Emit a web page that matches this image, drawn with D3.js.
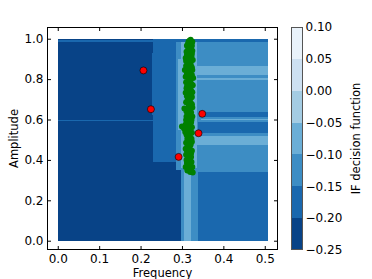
<!DOCTYPE html>
<html lang="en">
<head>
<meta charset="utf-8">
<title>IF decision function</title>
<script src="https://d3js.org/d3.v7.min.js"></script>
<style>
  body { margin: 0; background: #fff; }
  svg text { font-family: "DejaVu Sans", sans-serif; fill: #000; }
</style>
</head>
<body>
<div id="chart"></div>
<script>
// colour bar levels
var levels = [-0.25, -0.20, -0.15, -0.10, -0.05, 0.00, 0.05, 0.10];
var xTicks = [0.0, 0.1, 0.2, 0.3, 0.4, 0.5];
var yTicks = [0.0, 0.2, 0.4, 0.6, 0.8, 1.0];
// matplotlib "Blues" anchor colours (0 -> 1)
var bluesStops = ["#f7fbff", "#deebf7", "#c6dbef", "#9ecae1", "#6baed6",
                  "#4292c6", "#2171b5", "#08519c", "#08306b"];

// decision function read off the picture as blocks, painted in order
// [freq0, freq1, amp0, amp1, score]
var cells = [
  [0.000, 0.508, 0.000, 1.000, -0.23],
  [0.000, 0.232, 0.982, 0.992, -0.18],
  [0.000, 0.232, 0.592, 0.600, -0.18],
  [0.231, 0.298, 0.392, 1.000, -0.18],
  [0.227, 0.231, 0.620, 0.930, -0.18],
  [0.229, 0.231, 0.420, 0.550, -0.18],
  [0.338, 0.508, 0.000, 0.342, -0.18],
  [0.338, 0.508, 0.342, 1.000, -0.13],
  [0.286, 0.338, 0.350, 1.000, -0.13],
  [0.298, 0.336, 0.360, 0.985, -0.08],
  [0.290, 0.298, 0.550, 0.900, -0.08],
  [0.307, 0.326, 0.370, 0.980, -0.03],
  [0.298, 0.338, 0.000, 0.360, -0.13],
  [0.305, 0.322, 0.000, 0.370, -0.08],
  [0.332, 0.508, 0.822, 0.866, -0.08],
  [0.335, 0.508, 0.797, 0.805, -0.08],
  [0.344, 0.508, 0.612, 0.635, -0.18],
  [0.345, 0.508, 0.598, 0.604, -0.08],
  [0.338, 0.508, 0.532, 0.590, -0.18],
  [0.332, 0.508, 0.474, 0.516, -0.08],
  [0.286, 0.508, 0.985, 1.000, -0.18]
];

// training points [frequency, amplitude]
var inliers = [
  [0.321, 0.995], [0.316, 0.985], [0.325, 0.985], [0.319, 0.975], [0.312, 0.965],
  [0.324, 0.965], [0.318, 0.955], [0.322, 0.945], [0.311, 0.935], [0.317, 0.935],
  [0.324, 0.925], [0.315, 0.915], [0.320, 0.905], [0.309, 0.905], [0.326, 0.895],
  [0.313, 0.885], [0.319, 0.875], [0.322, 0.865], [0.310, 0.865], [0.316, 0.855],
  [0.307, 0.845], [0.325, 0.845], [0.318, 0.835], [0.312, 0.825], [0.321, 0.815],
  [0.315, 0.805], [0.327, 0.805], [0.318, 0.795], [0.310, 0.785], [0.323, 0.775],
  [0.316, 0.765], [0.320, 0.755], [0.311, 0.755], [0.314, 0.745], [0.325, 0.735],
  [0.318, 0.725], [0.312, 0.715], [0.321, 0.705], [0.315, 0.705], [0.318, 0.695],
  [0.310, 0.685], [0.324, 0.675], [0.316, 0.665], [0.306, 0.655], [0.320, 0.655],
  [0.313, 0.645], [0.322, 0.635], [0.317, 0.625], [0.311, 0.615], [0.325, 0.615],
  [0.319, 0.605], [0.314, 0.595], [0.322, 0.585], [0.309, 0.575], [0.318, 0.575],
  [0.300, 0.565], [0.312, 0.565], [0.320, 0.555], [0.305, 0.555], [0.316, 0.545],
  [0.324, 0.535], [0.311, 0.525], [0.318, 0.515], [0.313, 0.505], [0.323, 0.505],
  [0.316, 0.495], [0.310, 0.485], [0.321, 0.475], [0.315, 0.465], [0.319, 0.455],
  [0.312, 0.445], [0.324, 0.445], [0.317, 0.435], [0.310, 0.425], [0.322, 0.415],
  [0.316, 0.405], [0.320, 0.395], [0.312, 0.385], [0.318, 0.375], [0.325, 0.365],
  [0.309, 0.365], [0.316, 0.355], [0.322, 0.345], [0.326, 0.338],
  [0.318, 0.990], [0.323, 0.978], [0.314, 0.972], [0.320, 0.960], [0.315, 0.948],
  [0.325, 0.940], [0.320, 0.928], [0.312, 0.920], [0.323, 0.912], [0.317, 0.898],
  [0.310, 0.890], [0.321, 0.882], [0.314, 0.872], [0.324, 0.858], [0.311, 0.850],
  [0.320, 0.842], [0.315, 0.828], [0.324, 0.820], [0.309, 0.812], [0.320, 0.790],
  [0.314, 0.780], [0.326, 0.770], [0.312, 0.762], [0.322, 0.742], [0.309, 0.732],
  [0.316, 0.720], [0.324, 0.712], [0.313, 0.690], [0.321, 0.682], [0.317, 0.668],
  [0.325, 0.660], [0.311, 0.640], [0.318, 0.632], [0.315, 0.612], [0.310, 0.598],
  [0.323, 0.598], [0.315, 0.582], [0.324, 0.562], [0.313, 0.550], [0.308, 0.538],
  [0.320, 0.530], [0.315, 0.518], [0.324, 0.490], [0.313, 0.478], [0.318, 0.468],
  [0.309, 0.455], [0.322, 0.432], [0.314, 0.418], [0.311, 0.400], [0.323, 0.390],
  [0.321, 0.360], [0.313, 0.348], [0.320, 0.340]
];
var outliers = [
  [0.207, 0.843], [0.225, 0.651], [0.349, 0.628], [0.340, 0.532], [0.292, 0.415]
];

function makeGraph(element) {
  var W = 372, H = 279;
  var margin = {top: 27, left: 47},
      width = 231,
      height = 223;

  var svg = d3.select(element).append("svg")
      .attr("width", W)
      .attr("height", H);

  var g = svg.append("g")
      .attr("transform", "translate(" + margin.left + "," + margin.top + ")");

  var x = d3.scaleLinear().domain([-0.026, 0.532]).range([0, width]);
  var y = d3.scaleLinear().domain([-0.046, 1.058]).range([height, 0]);

  // Blues_r band colours, as contourf picks them (level midpoints)
  var blues = d3.scaleLinear()
      .domain(d3.range(bluesStops.length).map(function(i) { return i / (bluesStops.length - 1); }))
      .range(bluesStops);
  var norm = d3.scaleLinear().domain([levels[0], levels[levels.length - 1]]).range([0, 1]);
  var bandColors = d3.range(levels.length - 1).map(function(i) {
    return blues(1 - norm((levels[i] + levels[i + 1]) / 2));
  });
  var color = d3.scaleThreshold()
      .domain(levels.slice(1, -1))
      .range(bandColors);

  g.selectAll(".cell")
      .data(cells)
    .enter().append("rect")
      .attr("class", "cell")
      .attr("x", function(d) { return x(d[0]); })
      .attr("width", function(d) { return x(d[1]) - x(d[0]); })
      .attr("y", function(d) { return y(d[3]); })
      .attr("height", function(d) { return y(d[2]) - y(d[3]); })
      .attr("fill", function(d) { return color(d[4]); })
      .attr("shape-rendering", "crispEdges");

  g.selectAll(".inlier")
      .data(inliers)
    .enter().append("circle")
      .attr("class", "inlier")
      .attr("cx", function(d) { return x(d[0]); })
      .attr("cy", function(d) { return y(d[1]); })
      .attr("r", 3)
      .attr("fill", "#008000");

  g.selectAll(".outlier")
      .data(outliers)
    .enter().append("circle")
      .attr("class", "outlier")
      .attr("cx", function(d) { return x(d[0]); })
      .attr("cy", function(d) { return y(d[1]); })
      .attr("r", 3.5)
      .attr("fill", "#ff0000")
      .attr("stroke", "#000")
      .attr("stroke-width", 0.6);

  // axes, ticks pointing in on all four sides
  var fmt = d3.format(".1f");
  function style(sel) {
    sel.select(".domain").remove();
    sel.selectAll("line").attr("stroke", "#000");
    sel.selectAll("text").attr("font-size", 12).attr("fill", "#000");
  }
  g.append("g").attr("transform", "translate(0," + height + ")")
      .call(d3.axisBottom(x).tickValues(xTicks).tickFormat(fmt).tickSize(-4).tickPadding(4))
      .call(style);
  g.append("g")
      .call(d3.axisTop(x).tickValues(xTicks).tickFormat("").tickSize(-4))
      .call(style);
  g.append("g")
      .call(d3.axisLeft(y).tickValues(yTicks).tickFormat(fmt).tickSize(-4).tickPadding(3.5))
      .call(style);
  g.append("g").attr("transform", "translate(" + width + ",0)")
      .call(d3.axisRight(y).tickValues(yTicks).tickFormat("").tickSize(-4))
      .call(style);

  g.append("rect")
      .attr("x", 0.5).attr("y", 0.5)
      .attr("width", width - 1).attr("height", height - 1)
      .attr("fill", "none").attr("stroke", "#000");

  g.append("text")
      .attr("x", width / 2).attr("y", 250)
      .attr("text-anchor", "middle").attr("font-size", 11.5)
      .text("Frequency");
  g.append("text")
      .attr("transform", "translate(" + (18 - margin.left) + "," + (height / 2) + ") rotate(-90)")
      .attr("text-anchor", "middle").attr("font-size", 11.5)
      .text("Amplitude");

  // colour bar
  var cb = svg.append("g").attr("transform", "translate(291.5," + margin.top + ")");
  var cbW = 11;
  var cy = d3.scaleLinear().domain([levels[0], levels[levels.length - 1]]).range([height, 0]);
  var bands = d3.range(levels.length - 1);
  cb.selectAll(".band")
      .data(bands)
    .enter().append("rect")
      .attr("class", "band")
      .attr("x", 0).attr("width", cbW)
      .attr("y", function(i) { return cy(levels[i + 1]); })
      .attr("height", function(i) { return cy(levels[i]) - cy(levels[i + 1]); })
      .attr("fill", function(i) { return bandColors[i]; })
      .attr("shape-rendering", "crispEdges");
  cb.append("rect")
      .attr("x", 0).attr("y", 0.5).attr("width", cbW).attr("height", height - 1)
      .attr("fill", "none").attr("stroke", "#555").attr("stroke-width", 1);
  cb.append("g").attr("transform", "translate(" + cbW + ",0)")
      .call(d3.axisRight(cy).tickValues(levels).tickSize(0).tickPadding(3)
        .tickFormat(function(d) { return d3.format(".2f")(d).replace("-", "\u2212"); }))
      .call(style);
  cb.append("text")
      .attr("transform", "translate(" + (360 - 291.5) + "," + (height / 2) + ") rotate(-90)")
      .attr("text-anchor", "middle").attr("font-size", 11.5)
      .text("IF decision function");
}

makeGraph("#chart");
</script>
</body>
</html>
